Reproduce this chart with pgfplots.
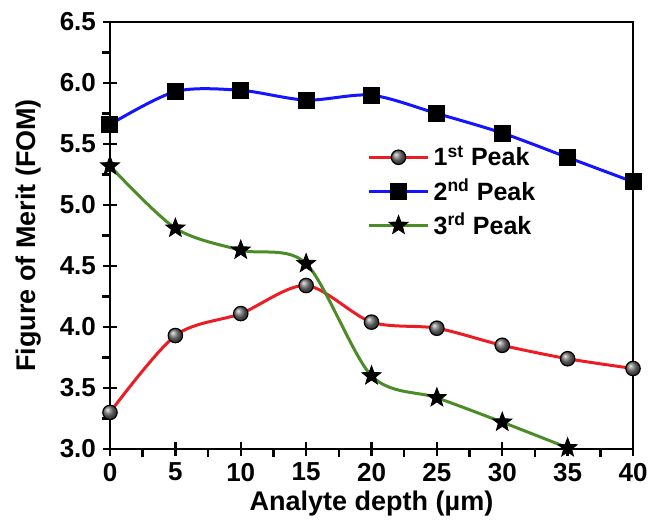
\documentclass[border=0pt]{standalone}
\usepackage{fontspec}
\setmainfont{Liberation Sans}
\usepackage{pgfplots}
\pgfplotsset{compat=1.18}
\usetikzlibrary{shadings}
\definecolor{cred}{RGB}{236,28,36}
\definecolor{cblue}{RGB}{20,20,255}
\definecolor{cgreen}{RGB}{76,140,40}
\pgfdeclareplotmark{fstar}{%
  \pgfpathmoveto{\pgfpointpolar{90}{\pgfplotmarksize}}%
  \pgfpathlineto{\pgfpointpolar{126}{0.42\pgfplotmarksize}}%
  \pgfpathlineto{\pgfpointpolar{162}{\pgfplotmarksize}}%
  \pgfpathlineto{\pgfpointpolar{198}{0.42\pgfplotmarksize}}%
  \pgfpathlineto{\pgfpointpolar{234}{\pgfplotmarksize}}%
  \pgfpathlineto{\pgfpointpolar{270}{0.42\pgfplotmarksize}}%
  \pgfpathlineto{\pgfpointpolar{306}{\pgfplotmarksize}}%
  \pgfpathlineto{\pgfpointpolar{342}{0.42\pgfplotmarksize}}%
  \pgfpathlineto{\pgfpointpolar{18}{\pgfplotmarksize}}%
  \pgfpathlineto{\pgfpointpolar{54}{0.42\pgfplotmarksize}}%
  \pgfpathclose
  \pgfusepathqfillstroke}
\begin{document}
\begin{tikzpicture}
\path[use as bounding box] (-55pt,-40pt) rectangle (271pt,224.5pt);
% minor ticks (outside), drawn as major ticks of an overlay axis
\begin{axis}[
  scale only axis, width=261.5pt, height=213.5pt,
  xmin=0, xmax=40, ymin=3.0, ymax=6.5,
  xtick={2.5,7.5,...,37.5}, ytick={3.25,3.75,...,6.25},
  xticklabels={}, yticklabels={},
  axis line style={line width=1.2pt},
  every tick/.style={black, line width=1.2pt},
  tick align=outside, major tick length=4pt,
  xtick pos=left, ytick pos=left,
]
\end{axis}
\begin{axis}[
  scale only axis, width=261.5pt, height=213.5pt,
  xmin=0, xmax=40, ymin=3.0, ymax=6.5,
  xtick={0,5,...,40}, ytick={3.0,3.5,...,6.5},
  axis line style={line width=1.2pt},
  every tick/.style={black, line width=1.2pt},
  tick align=center,
  major tick length=7pt,
  xtick pos=left, ytick pos=left,
  ticklabel style={font=\fontsize{13}{15}\selectfont\bfseries},
  /pgf/number format/assume math mode=true,
  yticklabel style={/pgf/number format/.cd, fixed, fixed zerofill, precision=1},
  xlabel={Analyte depth (µm)},
  ylabel={Figure of Merit (FOM)},
  label style={font=\fontsize{13.5}{16}\selectfont\bfseries},
  xlabel style={at={(axis description cs:0.5,-0.128)}, anchor=center},
  ylabel style={at={(axis description cs:-0.155,0.5)}, anchor=center},
  legend style={draw=none, fill=none, at={(axis description cs:0.48,0.73)}, anchor=north west,
    font=\fontsize{12.5}{14}\selectfont\bfseries, row sep=1pt},
  legend image code/.code={\draw[mark repeat=2, mark phase=2, #1] plot coordinates {(0cm,0cm) (0.52cm,0cm) (1.04cm,0cm)};},
  legend cell align=left,
  clip=false,
]
\addplot[cred, line width=1.5pt, smooth, tension=0.5, mark=ball, mark size=3.6pt, mark options={draw=black, line width=0.6pt, ball color=black!55}]
  coordinates {(0,3.30) (5,3.93) (10,4.11) (15,4.34) (20,4.04) (25,3.99) (30,3.85) (35,3.74) (40,3.66)};
\addlegendentry{1\textsuperscript{st} Peak}
\addplot[cblue, line width=1.5pt, smooth, tension=0.5, mark=square*, mark size=3.5pt, mark options={black, fill=black}]
  coordinates {(0,5.66) (5,5.93) (10,5.94) (15,5.86) (20,5.90) (25,5.75) (30,5.59) (35,5.39) (40,5.19)};
\addlegendentry{2\textsuperscript{nd} Peak}
\addplot[cgreen, line width=1.5pt, smooth, tension=0.5, mark=fstar, mark size=5pt, mark options={black, fill=black, line width=0.4pt}]
  coordinates {(0,5.32) (5,4.81) (10,4.63) (15,4.52) (20,3.60) (25,3.42) (30,3.22) (35,3.01)};
\addlegendentry{3\textsuperscript{rd} Peak}
\end{axis}
\end{tikzpicture}
\end{document}
